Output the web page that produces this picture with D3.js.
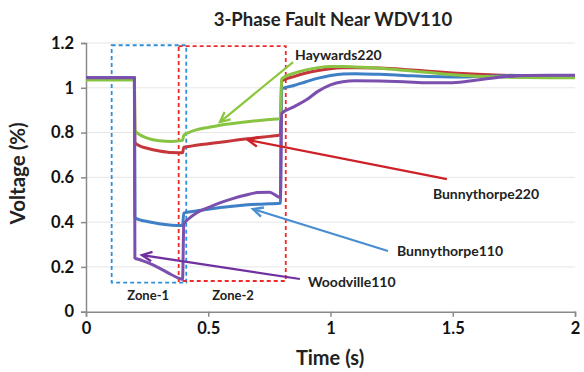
<!DOCTYPE html>
<html>
<head>
<meta charset="utf-8">
<script src="https://cdn.jsdelivr.net/npm/d3@7/dist/d3.min.js"></script>
<style>
  html, body { margin: 0; padding: 0; background: #fff; }
  svg { display: block; font-family: Lato, "Open Sans", sans-serif; }
</style>
</head>
<body>
<svg id="chart" width="584" height="372"></svg>
<script>
// Simulation time points (s)
const time = [0, 0.198, 0.2, 0.22, 0.25, 0.3, 0.35, 0.395, 0.4, 0.42, 0.45, 0.5, 0.55, 0.6, 0.65, 0.7, 0.75, 0.795,
              0.8, 0.85, 0.9, 0.95, 1.0, 1.05, 1.1, 1.2, 1.3, 1.4, 1.5, 1.6, 1.7, 1.8, 1.9, 2.0];

// Bus voltages (p.u.) at each time point
const bunnythorpe220 = [1.045, 1.045, 0.755, 0.74, 0.73, 0.718, 0.711, 0.71, 0.735, 0.738, 0.743, 0.75, 0.757, 0.764, 0.771, 0.777, 0.783, 0.789,
                        1.03, 1.05, 1.066, 1.077, 1.085, 1.089, 1.09, 1.088, 1.082, 1.074, 1.066, 1.06, 1.056, 1.054, 1.053, 1.053];
const bunnythorpe110 = [1.045, 1.045, 0.42, 0.41, 0.403, 0.393, 0.386, 0.385, 0.44, 0.445, 0.45, 0.458, 0.465, 0.471, 0.476, 0.48, 0.482, 0.484,
                        0.995, 1.01, 1.027, 1.043, 1.055, 1.062, 1.063, 1.06, 1.055, 1.05, 1.048, 1.05, 1.053, 1.055, 1.055, 1.055];
const haywards220    = [1.035, 1.035, 0.81, 0.79, 0.775, 0.763, 0.76, 0.765, 0.788, 0.8, 0.812, 0.823, 0.833, 0.84, 0.847, 0.853, 0.858, 0.862,
                        1.04, 1.065, 1.08, 1.09, 1.095, 1.095, 1.093, 1.087, 1.078, 1.068, 1.058, 1.052, 1.048, 1.046, 1.045, 1.045];
const woodville110   = [1.045, 1.045, 0.24, 0.232, 0.22, 0.195, 0.165, 0.145, 0.39, 0.415, 0.44, 0.465, 0.487, 0.505, 0.52, 0.532, 0.534, 0.51,
                        0.885, 0.915, 0.945, 0.985, 1.013, 1.027, 1.031, 1.03, 1.027, 1.022, 1.023, 1.035, 1.048, 1.055, 1.056, 1.056];

const xTicks = [0, 0.5, 1, 1.5, 2];
const yTicks = [0, 0.2, 0.4, 0.6, 0.8, 1, 1.2];

// Protection zones: [t start, t end, v bottom, v top]
const zone1 = [0.105, 0.41, 0.13, 1.19];
const zone2 = [0.379, 0.817, 0.137, 1.186];

// Callouts: label, arrow tip (t, v), arrow tail (t, v), label offset (px)
const callouts = [
  { name: "Haywards220",    tip: [0.548, 0.847], tail: [0.847, 1.115], color: "#8cc63f", dx: 2,   dy: -7 },
  { name: "Bunnythorpe220", tip: [0.663, 0.767], tail: [1.476, 0.592], color: "#cf2027", dx: -14, dy: 15 },
  { name: "Bunnythorpe110", tip: [0.683, 0.458], tail: [1.235, 0.271], color: "#4a8ed2", dx: 9,   dy: 0 },
  { name: "Woodville110",   tip: [0.229, 0.253], tail: [0.875, 0.146], color: "#7030a0", dx: 8,   dy: 3 }
];

const svg = d3.select("#chart");
const x = d3.scaleLinear().domain([0, 2]).range([86, 575]);
const y = d3.scaleLinear().domain([0, 1.2]).range([311.7, 43]);

// Gridlines
svg.append("g").selectAll("line").data(yTicks.filter(d => d > 0)).join("line")
  .attr("x1", x(0)).attr("x2", x(2))
  .attr("y1", d => y(d)).attr("y2", d => y(d))
  .attr("stroke", "#e6e6e6").attr("stroke-width", 1);

// Axes
const fmt = d => d3.format("~g")(d);
const yAxis = svg.append("g").attr("transform", `translate(${x(0)},0)`)
  .call(d3.axisLeft(y).tickValues(yTicks).tickFormat(fmt).tickSize(5).tickPadding(7));
const xAxis = svg.append("g").attr("transform", `translate(0,${y(0)})`)
  .call(d3.axisBottom(x).tickValues(xTicks).tickFormat(fmt).tickSize(5).tickPadding(6));
[yAxis, xAxis].forEach(g => {
  g.select(".domain").attr("stroke", "#8a8a8a").attr("stroke-width", 1.5);
  g.selectAll(".tick line").attr("stroke", "#8a8a8a").attr("stroke-width", 1.5);
  g.selectAll(".tick text").attr("fill", "#111").attr("font-size", 16.5).attr("font-weight", "bold")
    .attr("font-family", "Lato, sans-serif");
});

// Zone boxes
function zoneBox(z, color) {
  svg.append("rect")
    .attr("x", x(z[0])).attr("y", y(z[3]))
    .attr("width", x(z[1]) - x(z[0])).attr("height", y(z[2]) - y(z[3]))
    .attr("fill", "none").attr("stroke", color).attr("stroke-width", 1.8)
    .attr("stroke-dasharray", "4,3");
}
zoneBox(zone1, "#2f8fd9");
zoneBox(zone2, "#f0282a");

// Voltage traces
const line = d3.line().x((d, i) => x(time[i])).y(d => y(d)).curve(d3.curveMonotoneX);
const series = [
  { values: bunnythorpe220, color: "#c4363a" },
  { values: bunnythorpe110, color: "#3f7fc6" },
  { values: haywards220,    color: "#88c441" },
  { values: woodville110,   color: "#7b4fae" }
];
svg.append("g").selectAll("path").data(series).join("path")
  .attr("d", d => line(d.values))
  .attr("fill", "none").attr("stroke", d => d.color)
  .attr("stroke-width", 3).attr("stroke-linejoin", "round");

// Zone labels
const zoneLabelY = y(zone1[2]) + 17;
[["Zone-1", (x(zone1[0]) + x(zone2[0])) / 2 + 3], ["Zone-2", (x(zone1[1]) + x(zone2[1])) / 2 - 3]].forEach(([t, cx]) => {
  svg.append("text").attr("x", cx).attr("y", zoneLabelY)
    .attr("text-anchor", "middle").attr("font-size", 13).attr("font-weight", "bold").attr("fill", "#222")
    .text(t);
});

// Callout arrows with open heads
const cg = svg.append("g");
callouts.forEach(c => {
  const x0 = x(c.tail[0]), y0 = y(c.tail[1]), x1 = x(c.tip[0]), y1 = y(c.tip[1]);
  cg.append("line").attr("x1", x0).attr("y1", y0).attr("x2", x1).attr("y2", y1)
    .attr("stroke", c.color).attr("stroke-width", 2.2);
  const a = Math.atan2(y1 - y0, x1 - x0), L = 11, w = 0.45;
  const p = [
    [x1 - L * Math.cos(a - w), y1 - L * Math.sin(a - w)],
    [x1, y1],
    [x1 - L * Math.cos(a + w), y1 - L * Math.sin(a + w)]
  ];
  cg.append("path").attr("d", d3.line()(p)).attr("fill", "none")
    .attr("stroke", c.color).attr("stroke-width", 2.4).attr("stroke-linejoin", "miter");
  cg.append("text").attr("x", x0 + c.dx).attr("y", y0 + c.dy)
    .attr("dy", "0.35em").attr("font-size", 14).attr("font-weight", "bold").attr("fill", "#222")
    .text(c.name);
});

// Title and axis titles
svg.append("text").attr("x", 333).attr("y", 26).attr("text-anchor", "middle")
  .attr("font-size", 18.5).attr("font-weight", "bold").attr("fill", "#222")
  .text("3-Phase Fault Near WDV110");
svg.append("text").attr("transform", `translate(25,${(y(0) + y(1.2)) / 2 - 4}) rotate(-90)`)
  .attr("text-anchor", "middle").attr("font-size", 20.5).attr("font-weight", "bold").attr("fill", "#222")
  .text("Voltage (%)");
svg.append("text").attr("x", 330).attr("y", 365).attr("text-anchor", "middle")
  .attr("font-size", 20).attr("font-weight", "bold").attr("fill", "#222")
  .text("Time (s)");
</script>
</body>
</html>
